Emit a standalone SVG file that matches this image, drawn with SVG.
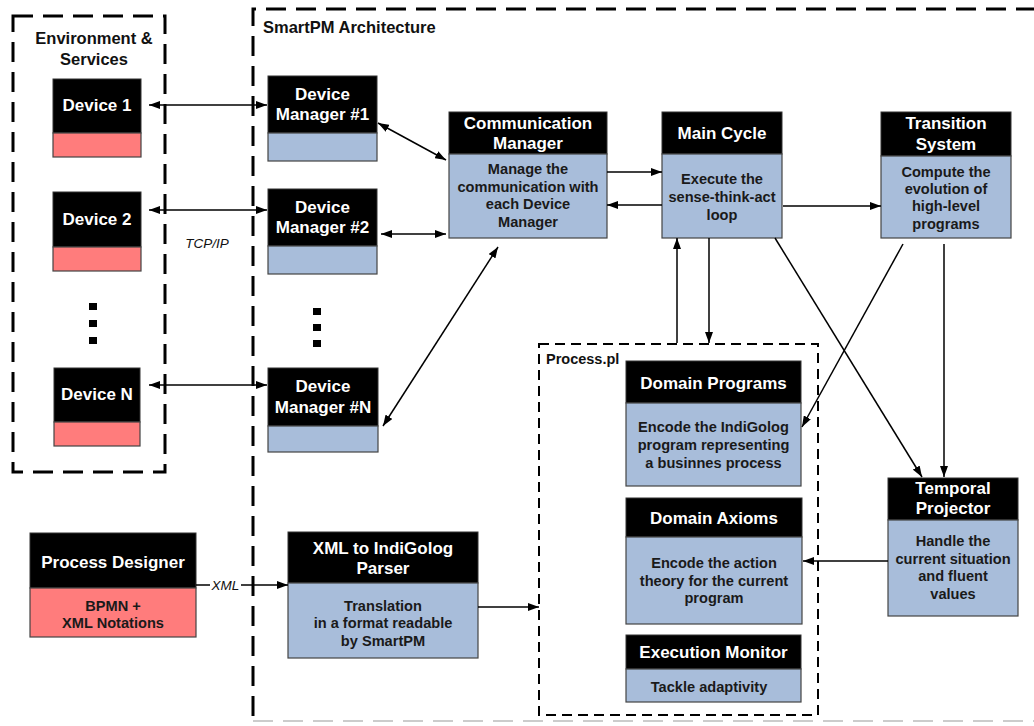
<svg xmlns="http://www.w3.org/2000/svg" width="1034" height="726" viewBox="0 0 1034 726">
<style>
.hd{fill:#000;stroke:#333;stroke-width:1}
.bb{fill:#A8BDDA;stroke:#444;stroke-width:1.2}
.rb{fill:#FF7C7C;stroke:#444;stroke-width:1.2}
.ht{font-family:"Liberation Sans",Arial,sans-serif;font-weight:bold;font-size:17px;fill:#fff;text-anchor:middle}
.bt{font-family:"Liberation Sans",Arial,sans-serif;font-weight:bold;font-size:14.6px;fill:#1a1a1a;text-anchor:middle}
.lt{font-family:"Liberation Sans",Arial,sans-serif;font-weight:bold;font-size:16.5px;fill:#111}
.it{font-family:"Liberation Sans",Arial,sans-serif;font-style:italic;font-size:13.5px;fill:#111;text-anchor:middle}
.c{stroke:#000;stroke-width:1.5;fill:none;marker-end:url(#ah)}
.cb{stroke:#000;stroke-width:1.5;fill:none;marker-end:url(#ah);marker-start:url(#ah)}
.big{fill:none;stroke:#000;stroke-width:3;stroke-dasharray:20 10}
.small{fill:none;stroke:#000;stroke-width:2;stroke-dasharray:10 6}
</style>
<defs>
<marker id="ah" viewBox="0 0 11 8" refX="11" refY="4" markerWidth="11" markerHeight="8" orient="auto-start-reverse" markerUnits="userSpaceOnUse"><path d="M0,0 L11,4 L0,8 z" fill="#000"/></marker>
</defs>
<rect width="1034" height="726" fill="#fff"/>

<g id="env-services">
<rect class="big" x="13" y="16" width="152" height="456"/>
<text class="lt" x="94" y="44" text-anchor="middle">Environment &amp;</text>
<text class="lt" x="94" y="65" text-anchor="middle">Services</text>
<rect x="89" y="303" width="8" height="7" fill="#000"/>
<rect x="89" y="320" width="8" height="7" fill="#000"/>
<rect x="89" y="337" width="8" height="7" fill="#000"/>
</g>

<g id="smartpm">
<path class="big" d="M253,716 V9 H1040"/>
<line x1="253" y1="721" x2="1034" y2="721" stroke="#ccc" stroke-width="2" stroke-dasharray="20 10"/>
<text class="lt" x="263" y="33">SmartPM Architecture</text>
<rect x="313" y="308" width="8" height="7" fill="#000"/>
<rect x="313" y="324" width="8" height="7" fill="#000"/>
<rect x="313" y="340" width="8" height="7" fill="#000"/>
</g>

<g id="process-pl">
<rect class="small" x="539" y="344" width="279" height="371"/>
<text class="lt" x="546" y="364" style="font-size:14.5px">Process.pl</text>
</g>

<g id="device1">
<rect class="hd" x="53" y="79" width="88" height="54"/>
<rect class="rb" x="53" y="133" width="88" height="24"/>
<text class="ht" x="97" y="111">Device 1</text>
</g>
<g id="device2">
<rect class="hd" x="53" y="192" width="88" height="55"/>
<rect class="rb" x="53" y="247" width="88" height="24"/>
<text class="ht" x="97" y="225">Device 2</text>
</g>
<g id="deviceN">
<rect class="hd" x="54" y="368" width="86" height="54"/>
<rect class="rb" x="54" y="422" width="86" height="24"/>
<text class="ht" x="97" y="400">Device N</text>
</g>

<g id="dm1">
<rect class="hd" x="268" y="76" width="109" height="57"/>
<rect class="bb" x="268" y="133" width="109" height="28"/>
<text class="ht" x="322.5" y="100">Device</text>
<text class="ht" x="322.5" y="120">Manager #1</text>
</g>
<g id="dm2">
<rect class="hd" x="268" y="189" width="109" height="57"/>
<rect class="bb" x="268" y="246" width="109" height="28"/>
<text class="ht" x="322.5" y="213">Device</text>
<text class="ht" x="322.5" y="233">Manager #2</text>
</g>
<g id="dmN">
<rect class="hd" x="268" y="368" width="110" height="58"/>
<rect class="bb" x="268" y="426" width="110" height="26"/>
<text class="ht" x="323" y="392">Device</text>
<text class="ht" x="323" y="413">Manager #N</text>
</g>

<g id="comm-manager">
<rect class="hd" x="449" y="112" width="158" height="42"/>
<rect class="bb" x="449" y="154" width="158" height="84"/>
<text class="ht" x="528" y="129">Communication</text>
<text class="ht" x="528" y="149">Manager</text>
<text class="bt" x="528" y="174">Manage the</text>
<text class="bt" x="528" y="192">communication with</text>
<text class="bt" x="528" y="209">each Device</text>
<text class="bt" x="528" y="227">Manager</text>
</g>

<g id="main-cycle">
<rect class="hd" x="662" y="112" width="120" height="42"/>
<rect class="bb" x="662" y="154" width="120" height="84"/>
<text class="ht" x="722" y="139">Main Cycle</text>
<text class="bt" x="722" y="184">Execute the</text>
<text class="bt" x="722" y="202">sense-think-act</text>
<text class="bt" x="722" y="220">loop</text>
</g>

<g id="transition-system">
<rect class="hd" x="881" y="112" width="130" height="44"/>
<rect class="bb" x="881" y="156" width="130" height="82"/>
<text class="ht" x="946" y="129">Transition</text>
<text class="ht" x="946" y="150">System</text>
<text class="bt" x="946" y="177">Compute the</text>
<text class="bt" x="946" y="194">evolution of</text>
<text class="bt" x="946" y="211">high-level</text>
<text class="bt" x="946" y="229">programs</text>
</g>

<g id="temporal-projector">
<rect class="hd" x="888" y="478" width="130" height="42"/>
<rect class="bb" x="888" y="520" width="130" height="96"/>
<text class="ht" x="953" y="494">Temporal</text>
<text class="ht" x="953" y="514">Projector</text>
<text class="bt" x="953" y="546">Handle the</text>
<text class="bt" x="953" y="564">current situation</text>
<text class="bt" x="953" y="581">and fluent</text>
<text class="bt" x="953" y="599">values</text>
</g>

<g id="domain-programs">
<rect class="hd" x="626" y="361" width="175" height="42"/>
<rect class="bb" x="626" y="403" width="175" height="83"/>
<text class="ht" x="713.5" y="389">Domain Programs</text>
<text class="bt" x="713.5" y="432">Encode the IndiGolog</text>
<text class="bt" x="713.5" y="450">program representing</text>
<text class="bt" x="713.5" y="468">a businnes process</text>
</g>

<g id="domain-axioms">
<rect class="hd" x="626" y="498" width="176" height="39"/>
<rect class="bb" x="626" y="537" width="176" height="87"/>
<text class="ht" x="714" y="524">Domain Axioms</text>
<text class="bt" x="714" y="568">Encode the action</text>
<text class="bt" x="714" y="586">theory for the current</text>
<text class="bt" x="714" y="603">program</text>
</g>

<g id="execution-monitor">
<rect class="hd" x="626" y="635" width="175" height="34"/>
<rect class="bb" x="626" y="669" width="175" height="33"/>
<text class="ht" x="713.5" y="658">Execution Monitor</text>
<text class="bt" x="709" y="692">Tackle adaptivity</text>
</g>

<g id="process-designer">
<rect class="hd" x="30" y="533" width="166" height="55"/>
<rect class="rb" x="30" y="588" width="166" height="49"/>
<text class="ht" x="113" y="568">Process Designer</text>
<text class="bt" x="113" y="611">BPMN +</text>
<text class="bt" x="113" y="628">XML Notations</text>
</g>

<g id="xml-parser">
<rect class="hd" x="288" y="532" width="190" height="51"/>
<rect class="bb" x="288" y="583" width="190" height="75"/>
<text class="ht" x="383" y="554">XML to IndiGolog</text>
<text class="ht" x="383" y="574">Parser</text>
<text class="bt" x="383" y="611">Translation</text>
<text class="bt" x="383" y="628">in a format readable</text>
<text class="bt" x="383" y="646">by SmartPM</text>
</g>

<g id="connectors">
<line class="cb" x1="149" y1="105" x2="267" y2="105"/>
<line class="cb" x1="149" y1="210" x2="267" y2="210"/>
<line class="cb" x1="149" y1="385" x2="267" y2="385"/>
<line class="cb" x1="378" y1="123" x2="446" y2="160"/>
<line class="cb" x1="381" y1="234" x2="446" y2="234"/>
<line class="cb" x1="498" y1="247" x2="383" y2="426"/>
<line class="c" x1="607" y1="172" x2="662" y2="172"/>
<line class="c" x1="662" y1="205" x2="607" y2="205"/>
<line class="c" x1="783" y1="206" x2="881" y2="206"/>
<line class="c" x1="677" y1="343" x2="677" y2="238"/>
<line class="c" x1="709" y1="238" x2="709" y2="343"/>
<line class="c" x1="775" y1="238" x2="922" y2="477"/>
<line class="c" x1="903" y1="244" x2="802" y2="427"/>
<line class="c" x1="944" y1="244" x2="944" y2="477"/>
<line class="c" x1="888" y1="561" x2="803" y2="561"/>
<line class="c" x1="196" y1="585" x2="288" y2="585"/>
<line class="c" x1="478" y1="607" x2="539" y2="607"/>
<text class="it" x="207" y="248">TCP/IP</text>
<rect x="210" y="578" width="31" height="14" fill="#fff"/>
<text class="it" x="225.5" y="590">XML</text>
</g>
</svg>
